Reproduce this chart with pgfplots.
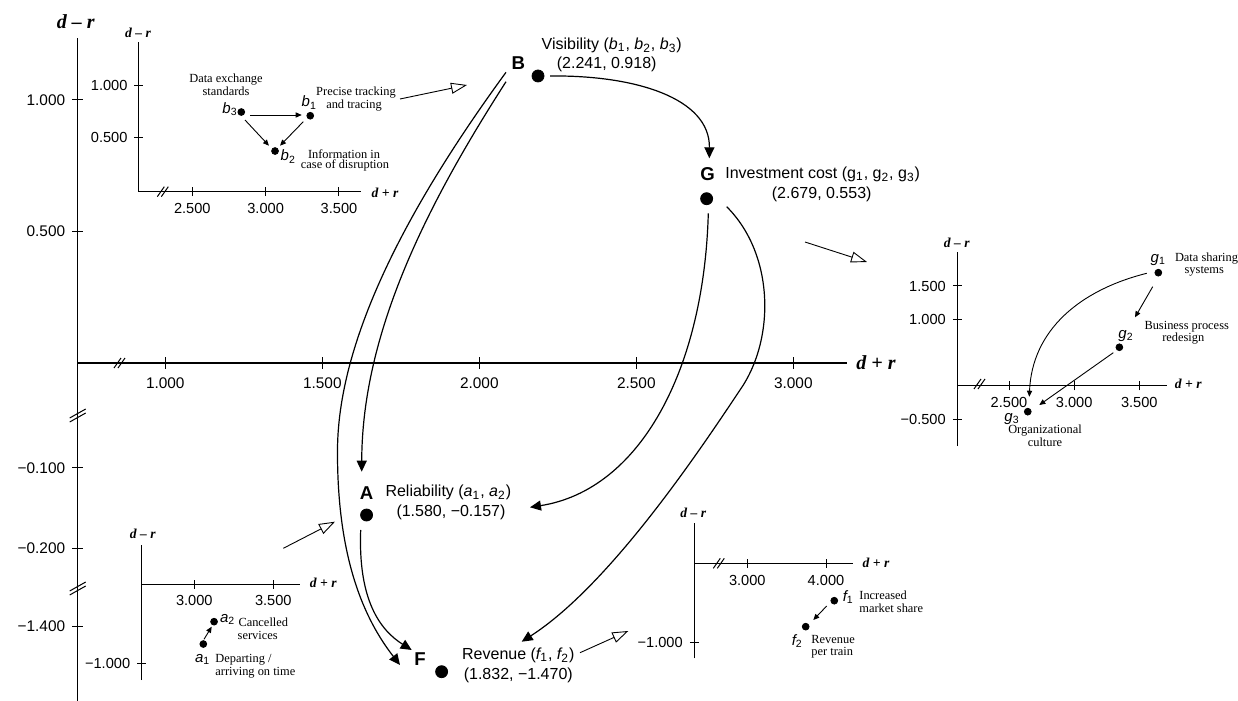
\documentclass[border=0pt]{standalone}
\usepackage{pgfplots}
\pgfplotsset{compat=1.18}
\usepackage{fontspec}
\setmainfont{Liberation Sans}
\newfontfamily\serif{Liberation Serif}
\usetikzlibrary{arrows.meta}

% axis names, bold italic serif
\newcommand{\dmr}{{\serif\bfseries\itshape d – r}}
\newcommand{\dpr}{{\serif\bfseries\itshape d + r}}
\newcommand{\lab}{\fontsize{8}{9.6}\selectfont}
\newcommand{\letr}{\fontsize{9.3}{11}\selectfont\bfseries}
\newcommand{\anno}{\fontsize{6.2}{7.2}\selectfont\serif}
\newcommand{\ptl}{\fontsize{7.5}{9}\selectfont}
\newcommand{\sub}[2]{{\itshape #1}\textsubscript{#2}}

% break marks, pixel coordinates
\newcommand{\xbrk}[2]{\draw[line width=0.5pt] ({#1-6},{#2+5}) -- ({#1+1},{#2-5}) ({#1-2},{#2+5}) -- ({#1+5},{#2-5});}
\newcommand{\ybrk}[2]{\draw[line width=0.5pt] ({#1-8},{#2+3}) -- ({#1+8},{#2-6}) ({#1-8},{#2+7}) -- ({#1+8},{#2-2});}

\pgfplotsset{
  inset/.style={scale only axis, clip=false, anchor=north west,
    axis y line=left, axis line style={-, line width=0.5pt},
    tick align=center, major tick length=4.5pt,
    every tick/.style={black, line width=0.5pt},
    ticklabel style={font=\fontsize{7.3}{8}\selectfont}},
  dot/.style={only marks, mark=*, mark size=1.7pt, black},
}

\begin{document}
\begin{tikzpicture}
\path[use as bounding box] (0,0) rectangle (619pt,-350.5pt);

% main map: x = d+r, y = d-r on a broken scale
\begin{axis}[scale only axis, clip=false, anchor=north west,
  at={(38.85pt,-19pt)}, width=384.65pt, height=331.5pt,
  xmin=0.72102, xmax=3.17102, ymin=-1.28517, ymax=1.23574,
  axis x line=middle, axis y line=left,
  axis line style={-, line width=0.65pt},
  tick align=center, major tick length=5.5pt,
  every tick/.style={black, line width=0.5pt},
  xtick={1,1.5,2,2.5,3},
  xticklabels={1.000,1.500,2.000,2.500,3.000},
  ytick={-1.0023,-0.7046,-0.3992,0.5,1},
  yticklabels={−1.400,−0.200,−0.100,0.500,1.000},
  ticklabel style={font=\fontsize{7.7}{9}\selectfont},
  xticklabel style={yshift=-1pt}]
\addplot[only marks, mark=*, mark size=3pt, black] coordinates {
  (2.187,1.0913) (2.724,0.6247) (1.641,-0.578) (1.880,-1.1738)};
\end{axis}

% inset B
\begin{axis}[at={(69.5pt,-20.85pt)}, width=111pt, height=75pt,
  xmin=2.1367, xmax=3.65, ymin=-0.0271, ymax=1.4264, axis x line=bottom,
  xtick={2.5,3,3.5}, xticklabels={2.500,3.000,3.500},
  ytick={0.5,1}, yticklabels={0.500,1.000}, inset]
\addplot[dot] coordinates {(3.304,0.709) (3.064,0.367) (2.834,0.745)};
\end{axis}

% inset G
\begin{axis}[at={(478.65pt,-125.85pt)}, width=105pt, height=97.15pt,
  xmin=2.1032, xmax=3.7149, ymin=-0.9024, ymax=2.015, axis x line=middle,
  xtick={2.5,3,3.5}, xticklabels={2.500,3.000,3.500},
  ytick={-0.5,1,1.5}, yticklabels={−0.500,1.000,1.500}, inset]
\addplot[dot] coordinates {(3.646,1.700) (3.347,0.580) (2.644,-0.387)};
\end{axis}

% inset A
\begin{axis}[at={(70.85pt,-272.5pt)}, width=79.15pt, height=67.5pt,
  xmin=2.667, xmax=3.669, ymin=-1.2106, ymax=0.492, axis x line=middle,
  xtick={3,3.5}, xticklabels={3.000,3.500},
  ytick={-1}, yticklabels={−1.000}, inset]
\addplot[dot] coordinates {(3.057,-0.757) (3.125,-0.475)};
\end{axis}

% inset F
\begin{axis}[at={(347.15pt,-261.65pt)}, width=79.5pt, height=67.5pt,
  xmin=2.3266, xmax=4.3469, ymin=-1.1965, ymax=0.5038, axis x line=middle,
  xtick={3,4}, xticklabels={3.000,4.000},
  ytick={-1}, yticklabels={−1.000}, inset]
\addplot[dot] coordinates {(4.105,-0.471) (3.742,-0.798)};
\end{axis}

\begin{scope}[x=0.5pt, y=-0.5pt]
% axis names
\node[font=\fontsize{10}{12}\selectfont] at (75.7,21.7) {\dmr};
\node[font=\fontsize{10}{12}\selectfont, anchor=west, inner sep=0pt] at (856,363) {\dpr};
\node[font=\fontsize{6.8}{8}\selectfont] at (138,33) {\dmr};
\node[font=\fontsize{6.8}{8}\selectfont] at (385,192.7) {\dpr};
\node[font=\fontsize{6.8}{8}\selectfont] at (956.7,243.3) {\dmr};
\node[font=\fontsize{6.8}{8}\selectfont] at (1188.3,384) {\dpr};
\node[font=\fontsize{6.8}{8}\selectfont] at (142.7,534) {\dmr};
\node[font=\fontsize{6.8}{8}\selectfont] at (323.3,583.3) {\dpr};
\node[font=\fontsize{6.8}{8}\selectfont] at (693.3,513.3) {\dmr};
\node[font=\fontsize{6.8}{8}\selectfont] at (876,563.3) {\dpr};

% breaks
\xbrk{120}{363}
\ybrk{77.7}{415}
\ybrk{77.7}{588}
\xbrk{163.3}{191.7}
\xbrk{980}{384}
\xbrk{719.3}{563.3}

% main labels
\node[font=\letr] at (518.3,62.7) {B};
\node[font=\lab] at (611.7,45) {Visibility (\sub{b}{1}, \sub{b}{2}, \sub{b}{3})};
\node[font=\lab] at (606.7,64) {(2.241, 0.918)};
\node[font=\letr] at (707.7,174) {G};
\node[font=\lab] at (822.7,174) {Investment cost (g\textsubscript{1}, g\textsubscript{2}, g\textsubscript{3})};
\node[font=\lab] at (821.7,194) {(2.679, 0.553)};
\node[font=\letr] at (366.7,492.7) {A};
\node[font=\lab] at (448.3,492.7) {Reliability (\sub{a}{1}, \sub{a}{2})};
\node[font=\lab] at (451,512.7) {(1.580, −0.157)};
\node[font=\letr] at (420,659.3) {F};
\node[font=\lab] at (518.3,655) {Revenue (\sub{f}{1}, \sub{f}{2})};
\node[font=\lab] at (518.3,675) {(1.832, −1.470)};

% main arrows
\begin{scope}[line width=0.6pt, -{Triangle[length=5.5pt,width=5pt]}]
\draw (550,76) .. controls (635,75) and (710,98) .. (709.3,158.3);
\draw (506,81.7) .. controls (430,200) and (362,330) .. (361.7,471.7);
\draw (506,72.3) .. controls (420,190) and (338,330) .. (337.5,450)
      .. controls (337,560) and (365,620) .. (400,665);
\draw (360.7,530) .. controls (358,600) and (380,630) .. (411.7,650);
\draw (708.3,213.3) .. controls (704,370) and (640,490) .. (530,507.3);
\draw (726.7,206.7) .. controls (775,255) and (775,340) .. (740,390)
      .. controls (700,450) and (610,585) .. (521.7,641.7);
\end{scope}

% pointers to insets
\begin{scope}[line width=0.45pt, -{Triangle[open,length=8pt,width=5.5pt]}]
\draw (400,99) -- (467,85);
\draw (805,242) -- (867,262);
\draw (283.3,548.3) -- (335,521.7);
\draw (580,652.7) -- (628.3,631);
\end{scope}

% inset B texts
\node[font=\ptl] at (230,109) {\sub{b}{3}};
\node[font=\ptl] at (309.3,102.7) {\sub{b}{1}};
\node[font=\ptl] at (288.3,156.7) {\sub{b}{2}};
\node[font=\anno] at (226,79.3) {Data exchange};
\node[font=\anno] at (226,91) {standards};
\node[font=\anno] at (356,92.3) {Precise tracking};
\node[font=\anno] at (354,105.7) {and tracing};
\node[font=\anno] at (344,154.3) {Information in};
\node[font=\anno] at (345,165.7) {case of disruption};

% inset G texts
\node[font=\ptl] at (1158.3,260) {\sub{g}{1}};
\node[font=\ptl] at (1126,336) {\sub{g}{2}};
\node[font=\ptl, inner sep=1pt] at (1012,419) {\sub{g}{3}};
\node[font=\anno] at (1206.5,258.3) {Data sharing};
\node[font=\anno] at (1204.3,271) {systems};
\node[font=\anno] at (1186.7,326.7) {Business process};
\node[font=\anno] at (1183.3,339) {redesign};
\node[font=\anno] at (1045,431) {Organizational};
\node[font=\anno] at (1045,442) {culture};

% inset A texts
\node[font=\ptl] at (227.7,619.3) {\sub{a}{2}};
\node[font=\ptl] at (202.7,659.3) {\sub{a}{1}};
\node[font=\anno] at (263.3,622.7) {Cancelled};
\node[font=\anno] at (257.7,635) {services};
\node[font=\anno, anchor=west, inner sep=0pt] at (215,659.3) {Departing /};
\node[font=\anno, anchor=west, inner sep=0pt] at (215,672.3) {arriving on time};

% inset F texts
\node[font=\ptl] at (848.3,597.3) {\sub{f}{1}};
\node[font=\ptl] at (797.3,641) {\sub{f}{2}};
\node[font=\anno, anchor=west, inner sep=0pt] at (859,595) {Increased};
\node[font=\anno, anchor=west, inner sep=0pt] at (859,608.3) {market share};
\node[font=\anno, anchor=west, inner sep=0pt] at (811,639) {Revenue};
\node[font=\anno, anchor=west, inner sep=0pt] at (811,652.3) {per train};

% inset arrows
\begin{scope}[line width=0.45pt, -{Triangle[length=3pt,width=2.6pt]}]
\draw (250,115) -- (301.7,115);
\draw (245,120) -- (269,145.7);
\draw (303.3,121.7) -- (280,145.7);
\draw (1152.7,286.7) -- (1135,317.3);
\draw (1113.3,352.7) -- (1039.3,405);
\draw (1146.7,273.3) .. controls (1080,290) and (1032,330) .. (1029.3,396.7);
\draw (204,639.3) -- (211.7,626.7);
\draw (826.7,606) -- (813.3,620);
\end{scope}
\end{scope}
\end{tikzpicture}
\end{document}
